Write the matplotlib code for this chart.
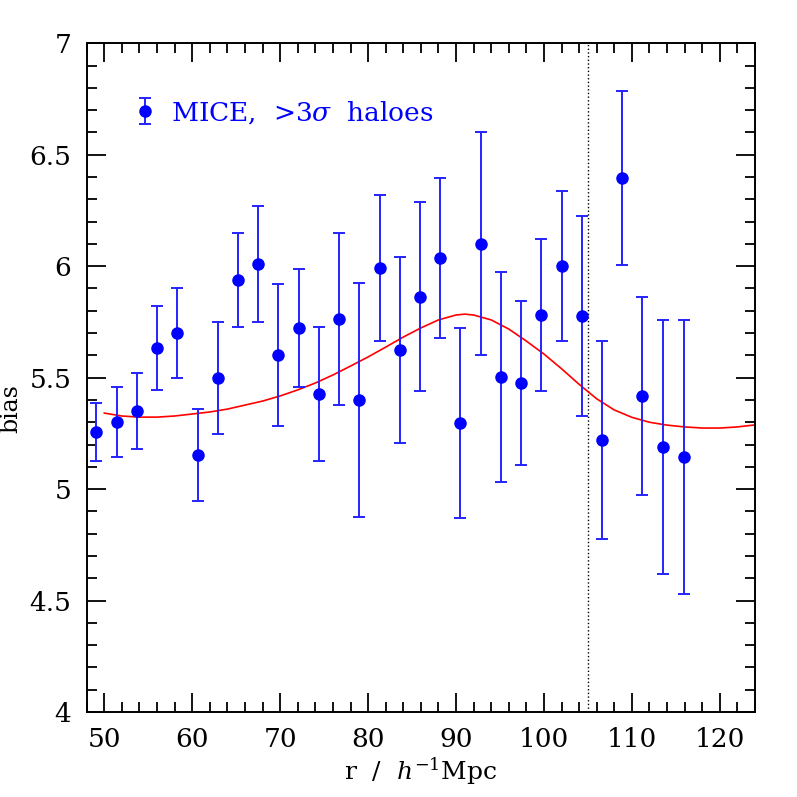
import matplotlib
matplotlib.use('Agg')
import matplotlib.pyplot as plt
from matplotlib.ticker import MultipleLocator

# MICE >3 sigma haloes: bias vs separation
r = [49.1, 51.4, 53.7, 56.0, 58.3, 60.6, 62.9, 65.2, 67.5, 69.8,
     72.1, 74.4, 76.7, 79.0, 81.3, 83.6, 85.9, 88.2, 90.5, 92.8,
     95.1, 97.4, 99.7, 102.0, 104.3, 106.6, 108.9, 111.2, 113.5, 115.9]
bias = [5.256, 5.301, 5.350, 5.633, 5.700, 5.153, 5.498, 5.938, 6.010, 5.600,
        5.723, 5.427, 5.763, 5.400, 5.992, 5.624, 5.862, 6.037, 5.297, 6.100,
        5.503, 5.476, 5.781, 6.000, 5.777, 5.220, 6.396, 5.418, 5.189, 5.144]
bias_err = [0.130, 0.157, 0.172, 0.190, 0.200, 0.205, 0.252, 0.209, 0.260, 0.318,
            0.266, 0.301, 0.386, 0.523, 0.326, 0.417, 0.424, 0.357, 0.427, 0.500,
            0.471, 0.370, 0.341, 0.336, 0.449, 0.444, 0.390, 0.443, 0.570, 0.615]

# model curve
r_model = [50, 52, 54, 56, 58, 60, 62, 64, 66, 68, 70, 72, 74, 76, 78, 80,
           82, 84, 86, 88, 90, 91, 92, 94, 96, 98, 100, 102, 104, 106, 108,
           110, 112, 114, 116, 118, 120, 122, 124]
bias_model = [5.341, 5.328, 5.323, 5.323, 5.328, 5.337, 5.346, 5.359, 5.377,
              5.395, 5.418, 5.445, 5.476, 5.512, 5.552, 5.593, 5.637, 5.682,
              5.723, 5.759, 5.781, 5.785, 5.781, 5.759, 5.718, 5.664, 5.606,
              5.540, 5.470, 5.405, 5.355, 5.322, 5.300, 5.287, 5.279, 5.274,
              5.274, 5.279, 5.288]

r_cut = 105

plt.rcParams['font.family'] = 'DejaVu Serif'
plt.rcParams['mathtext.fontset'] = 'dejavuserif'

fig = plt.figure(figsize=(7.97, 7.97), dpi=100)
ax = fig.add_axes([0.1088, 0.1066, 0.8385, 0.8391])

ax.plot(r_model, bias_model, color='red', lw=1.2, zorder=2)
ax.axvline(r_cut, color='black', ls=':', lw=1.0, zorder=1)
ax.errorbar(r, bias, yerr=bias_err, fmt='o', color='blue', ecolor='#2222ff',
            ms=8, elinewidth=1.4, capsize=4, capthick=1.4, zorder=3,
            label=r'MICE,  >3$\sigma$  haloes')

ax.set_xlim(48, 124)
ax.set_ylim(4, 7)
ax.xaxis.set_major_locator(MultipleLocator(10))
ax.xaxis.set_minor_locator(MultipleLocator(2))
ax.yaxis.set_major_locator(MultipleLocator(0.5))
ax.yaxis.set_minor_locator(MultipleLocator(0.1))
ax.yaxis.set_major_formatter(matplotlib.ticker.FuncFormatter(lambda v, p: '%g' % v))

ax.tick_params(which='both', direction='in', top=True, right=True, width=1.3)
ax.tick_params(which='major', length=14, pad=11, labelsize=19)
ax.tick_params(which='minor', length=7)
for s in ax.spines.values():
    s.set_linewidth(1.4)

ax.set_xlabel(r'r  /  $h^{-1}$Mpc', fontsize=18, labelpad=2)
ax.set_ylabel('bias', fontsize=17)
ax.yaxis.set_label_coords(-0.097, 0.454)

leg = ax.legend(loc='upper left', bbox_to_anchor=(0.055, 0.933), frameon=False,
                fontsize=19, labelcolor='blue', handlelength=0.8,
                handletextpad=0.6, borderaxespad=0)

fig.savefig('out.png', dpi=100)
